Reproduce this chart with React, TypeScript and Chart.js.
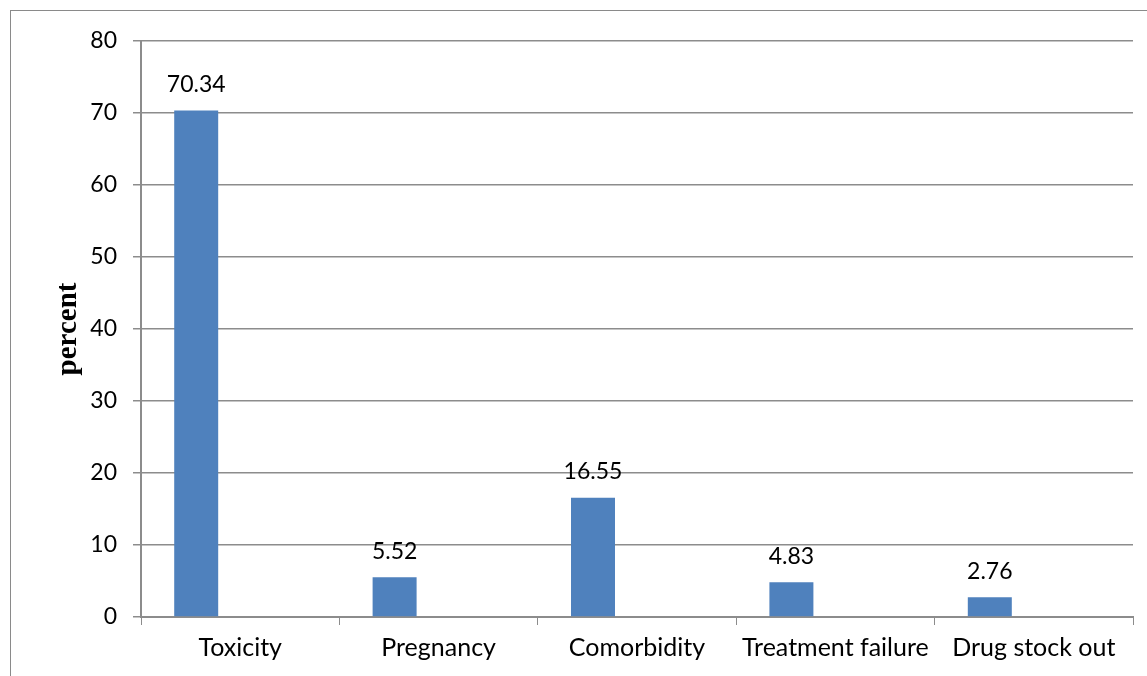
import React, { useEffect, useRef } from "react";
import { Chart, registerables } from "chart.js";

Chart.register(...registerables);

const categories = ["Toxicity", "Pregnancy", "Comorbidity", "Treatment failure", "Drug stock out"];
const percentValues = [70.34, 5.52, 16.55, 4.83, 2.76];
const emptySeries = [null, null, null, null, null];
const valueLabels = ["70.34", "5.52", "16.55", "4.83", "2.76"];
const yTicks = [0, 10, 20, 30, 40, 50, 60, 70, 80];

const GRID = "#8c8c8c";
const FONT = "Lato, 'Liberation Sans', sans-serif";

const dataLabelPlugin = {
  id: "dataLabels",
  afterDatasetsDraw(chart: any) {
    const ctx = chart.ctx;
    const meta = chart.getDatasetMeta(0);
    ctx.save();
    ctx.fillStyle = "#000";
    ctx.font = `23px ${FONT}`;
    ctx.textAlign = "center";
    ctx.textBaseline = "middle";
    meta.data.forEach((bar: any, i: number) => {
      ctx.fillText(valueLabels[i], bar.x, bar.y - 26);
    });
    ctx.restore();
  },
};

export default function App() {
  const ref = useRef<HTMLCanvasElement>(null);
  useEffect(() => {
    if (!ref.current) return;
    const chart = new Chart(ref.current, {
      type: "bar",
      data: {
        labels: categories,
        datasets: [
          {
            data: percentValues,
            backgroundColor: "#4F81BD",
            categoryPercentage: 0.887,
            barPercentage: 0.5,
          },
          {
            data: emptySeries as any,
            backgroundColor: "#C0504D",
            categoryPercentage: 0.887,
            barPercentage: 0.5,
          },
        ],
      },
      options: {
        responsive: false,
        animation: false,
        layout: { padding: { left: 0, top: 41, right: 14, bottom: 0 } },
        plugins: { legend: { display: false }, tooltip: { enabled: false } },
        scales: {
          x: {
            afterFit: (s: any) => {
              s.height = 59;
            },
            grid: {
              display: true,
              drawOnChartArea: false,
              drawTicks: true,
              tickLength: 8,
              color: GRID,
              offset: true,
            },
            border: { display: true, color: GRID, width: 2 },
            ticks: {
              color: "#000",
              font: { family: FONT, size: 25 },
              padding: 8,
              maxRotation: 0,
              autoSkip: false,
            },
          },
          y: {
            min: 0,
            max: 80,
            afterFit: (s: any) => {
              s.width = 141;
            },
            afterBuildTicks: (s: any) => {
              s.ticks = yTicks.map((v) => ({ value: v }));
            },
            grid: {
              color: GRID,
              lineWidth: 1.5,
              tickLength: 8,
            },
            border: { display: true, color: GRID, width: 2 },
            ticks: {
              color: "#000",
              font: { family: FONT, size: 23 },
              padding: 16,
            },
            title: {
              display: true,
              text: "percent",
              color: "#000",
              font: { family: "'Liberation Serif', 'DejaVu Serif', serif", size: 29, weight: "bold" },
              padding: { top: 51, bottom: 0 },
            },
          },
        },
      },
      plugins: [dataLabelPlugin],
    });
    return () => chart.destroy();
  }, []);

  return (
    <div style={{ position: "absolute", left: 0, top: 0, width: 1147, height: 676, background: "#fff", overflow: "hidden" }}>
      <div
        style={{
          position: "absolute",
          left: 10,
          top: 10,
          width: 1200,
          height: 800,
          borderTop: "1.5px solid #8a8a8a",
          borderLeft: "1.5px solid #8a8a8a",
        }}
      />
      <canvas ref={ref} width={1147} height={676} style={{ position: "absolute", left: 0, top: 0 }} />
    </div>
  );
}
